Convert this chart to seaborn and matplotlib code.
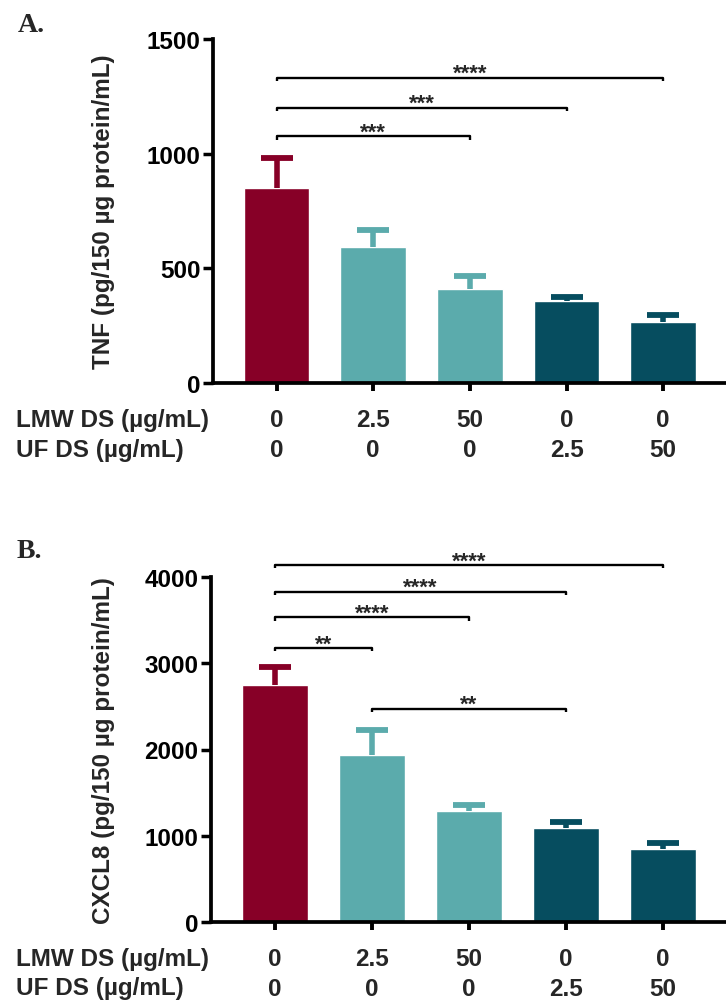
import matplotlib
matplotlib.use("Agg")
import matplotlib.pyplot as plt
import seaborn as sns
import pandas as pd

# Treatment groups (shared by both panels)
groups = ["Ctrl", "LMW 2.5", "LMW 50", "UF 2.5", "UF 50"]
lmw_dose = ["0", "2.5", "50", "0", "0"]
uf_dose = ["0", "0", "0", "2.5", "50"]
bar_colors = ["#870027", "#5BABAC", "#5BABAC", "#064D5F", "#064D5F"]

# Panel A: TNF
tnf_mean = [850, 595, 412, 357, 268]
tnf_err = [132, 74, 53, 18, 27]
tnf_ticks = [0, 500, 1000, 1500]
# significance brackets: (from group, to group, height, label)
tnf_sig = [(0, 2, 1077, "***"), (0, 3, 1200, "***"), (0, 4, 1331, "****")]

# Panel B: CXCL8
cxcl8_mean = [2744, 1938, 1283, 1093, 845]
cxcl8_err = [210, 285, 75, 66, 66]
cxcl8_ticks = [0, 1000, 2000, 3000, 4000]
cxcl8_sig = [(0, 1, 3178, "**"), (0, 2, 3531, "****"), (0, 3, 3829, "****"),
             (0, 4, 4140, "****"), (1, 3, 2473, "**")]

sns.set_theme(style="white")
plt.rcParams["font.family"] = ["Liberation Sans", "DejaVu Sans"]
plt.rcParams["font.weight"] = "bold"

W, H = 726, 1004
fig = plt.figure(figsize=(W / 100, H / 100), dpi=100)


def draw_panel(rect, means, errs, ticks, ymax, ylabel, sigs, label_x, bracket_drop):
    ax = fig.add_axes(rect)
    df = pd.DataFrame({"group": groups, "value": means})
    sns.barplot(data=df, x="group", y="value", hue="group", palette=bar_colors,
                errorbar=None, width=0.68, saturation=1, legend=False, ax=ax)
    # upper-only error bars (SEM), no cap at the mean
    for i, (m, e) in enumerate(zip(means, errs)):
        cont = ax.errorbar(i, m, yerr=[[0], [e]], fmt="none", ecolor=bar_colors[i],
                           elinewidth=4.0, capsize=11.5, capthick=4.2, zorder=3)
        for cap in cont.lines[1]:
            if abs(cap.get_ydata()[0] - m) < 1e-9:
                cap.set_visible(False)
    ax.set_xlim(-0.657, 4.65)
    ax.set_ylim(0, ymax)
    ax.set_yticks(ticks)
    ax.set_yticklabels([str(t) for t in ticks], fontsize=17.5, fontweight="bold")
    ax.set_xticks(range(len(groups)))
    ax.set_xticklabels([])
    ax.set_xlabel("")
    ax.set_ylabel(ylabel, fontsize=17.5, fontweight="bold")
    ax.yaxis.set_label_coords(label_x, 0.5)
    for side in ["top", "right"]:
        ax.spines[side].set_visible(False)
    for side in ["left", "bottom"]:
        ax.spines[side].set_linewidth(2.7)
        ax.spines[side].set_color("black")
    ax.tick_params(axis="y", direction="out", length=7, width=2.5, pad=2,
                   left=True, colors="black")
    ax.tick_params(axis="x", direction="out", length=6, width=2.8,
                   bottom=True, colors="black")

    # dose rows under the bars
    for i in range(len(groups)):
        ax.annotate(lmw_dose[i], xy=(i, 0), xycoords=("data", "axes fraction"),
                    xytext=(0, -26.5), textcoords="offset points",
                    ha="center", va="center", fontsize=17.5, fontweight="bold",
                    annotation_clip=False)
        ax.annotate(uf_dose[i], xy=(i, 0), xycoords=("data", "axes fraction"),
                    xytext=(0, -48), textcoords="offset points",
                    ha="center", va="center", fontsize=17.5, fontweight="bold",
                    annotation_clip=False)

    # significance brackets
    for a, b, h, txt in sigs:
        ax.plot([a, a, b, b], [h - bracket_drop, h, h, h - bracket_drop],
                color="black", lw=1.7, clip_on=False, solid_capstyle="butt")
        ax.annotate(txt, xy=((a + b) / 2, h), xycoords="data",
                    xytext=(0, -1), textcoords="offset points",
                    ha="center", va="baseline", fontsize=16, fontweight="bold",
                    annotation_clip=False)
    return ax


# Panel A
axA = draw_panel([213 / W, 1 - 384 / H, (W - 213) / W, 344 / H],
                 tnf_mean, tnf_err, tnf_ticks, 1500,
                 "TNF (pg/150 \u00b5g protein/mL)", tnf_sig, -0.191, 16)
# Panel B
axB = draw_panel([211 / W, 1 - 923 / H, (W - 211) / W, 345 / H],
                 cxcl8_mean, cxcl8_err, cxcl8_ticks, 4000,
                 "CXCL8 (pg/150 \u00b5g protein/mL)", cxcl8_sig, -0.187, 40)

# row captions
for ytop in (421, 960):
    fig.text(16 / W, 1 - ytop / H, "LMW DS (\u00b5g/mL)", ha="left", va="center",
             fontsize=17.5, fontweight="bold")
    fig.text(16 / W, 1 - (ytop + 29) / H, "UF DS (\u00b5g/mL)", ha="left", va="center",
             fontsize=17.5, fontweight="bold")

# panel letters
fig.text(18 / W, 1 - 32 / H, "A.", family="Liberation Serif", fontsize=20,
         fontweight="bold", ha="left", va="baseline")
fig.text(17 / W, 1 - 558 / H, "B.", family="Liberation Serif", fontsize=20,
         fontweight="bold", ha="left", va="baseline")

fig.savefig("out.png", dpi=100)
